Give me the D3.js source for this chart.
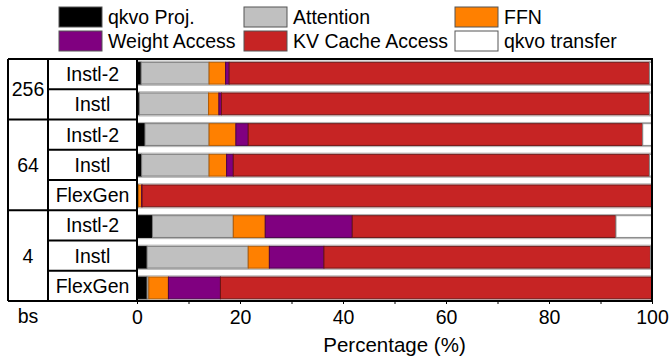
<!DOCTYPE html>
<html>
<head>
<meta charset="utf-8">
<script src="https://cdn.jsdelivr.net/npm/d3@7/dist/d3.min.js"></script>
<style>
  html, body { margin: 0; padding: 0; background: #fff; }
  svg { display: block; font-family: "Liberation Sans", Arial, sans-serif; }
</style>
</head>
<body>
<svg id="chart" width="670" height="360"></svg>
<script>
// ---- data ----
const rowLabels = ["Instl-2", "Instl", "Instl-2", "Instl", "FlexGen", "Instl-2", "Instl", "FlexGen"];
const rowBs     = ["256", "256", "64", "64", "64", "4", "4", "4"];
const groups    = ["256", "64", "4"];
const seriesNames = ["qkvo Proj.", "Attention", "FFN", "Weight Access", "KV Cache Access", "qkvo transfer"];
const qkvoProj     = [0.8, 0.45, 1.55, 0.9, 0.2, 3.0, 1.95, 1.95];
const attention    = [13.2, 13.45, 12.45, 13.1, 0.1, 15.7, 19.65, 0.35];
const ffn          = [3.2, 2.0, 5.2, 3.4, 0.6, 6.2, 4.1, 3.8];
const weightAccess = [0.7, 0.5, 2.4, 1.3, 0.1, 16.9, 10.6, 10.1];
const kvCache      = [81.6, 83.1, 76.6, 80.8, 99.0, 51.2, 63.4, 83.8];
const qkvoTransfer = [0.5, 0.5, 1.8, 0.5, 0, 7.0, 0.3, 0];
const xTicks = [0, 20, 40, 60, 80, 100];
const xMinorTicks = [10, 30, 50, 70, 90];

const colors  = ["#000000", "#c0c0c0", "#ff8000", "#800080", "#c62424", "#ffffff"];
const strokes = ["#000000", "#7a7a7a", "#b35a00", "#4a004a", "#6e1414", "#888888"];

const seriesValues = [qkvoProj, attention, ffn, weightAccess, kvCache, qkvoTransfer];
const table = rowLabels.map((name, i) => {
  const o = { idx: i, name: name, bs: rowBs[i] };
  seriesNames.forEach((s, k) => { o[s] = seriesValues[k][i]; });
  return o;
});

(function draw() {
  const svg = d3.select("#chart");
  const leftX = 8, bsDiv = 48, plotL = 137, plotR = 652, topY = 59, bottomY = 301;

  const x = d3.scaleLinear().domain([0, 100]).range([plotL, plotR]);
  const rowY = d3.scaleBand().domain(d3.range(8)).range([topY, bottomY]);
  const barY = d3.scaleBand().domain(d3.range(8)).range([62.3, 298.8]).paddingInner(0.29).paddingOuter(0);

  const stacked = d3.stack().keys(seriesNames)(table);

  // bar outer outline (light grey)
  svg.append("g").selectAll("rect").data(table).join("rect")
    .attr("x", x(0))
    .attr("y", d => barY(d.idx) - 1.2)
    .attr("width", x(100) - x(0))
    .attr("height", barY.bandwidth() + 2.4)
    .attr("fill", "none")
    .attr("stroke", "#b0b0b0")
    .attr("stroke-width", 1);

  const gBars = svg.append("g");
  stacked.forEach((layer, k) => {
    gBars.append("g").selectAll("rect").data(layer.filter(d => d[1] - d[0] > 0)).join("rect")
      .attr("x", d => x(d[0]))
      .attr("y", d => barY(d.data.idx))
      .attr("width", d => x(d[1]) - x(d[0]))
      .attr("height", barY.bandwidth())
      .attr("fill", colors[k])
      .attr("stroke", strokes[k])
      .attr("stroke-width", 1);
  });

  // ---- table frame ----
  const frame = svg.append("g").attr("stroke", "#000").attr("stroke-width", 2).attr("fill", "none");
  frame.append("line").attr("x1", leftX).attr("x2", plotR + 1).attr("y1", topY).attr("y2", topY);
  frame.append("line").attr("x1", leftX).attr("x2", plotR + 1).attr("y1", bottomY).attr("y2", bottomY);
  frame.append("line").attr("x1", leftX).attr("x2", leftX).attr("y1", topY).attr("y2", bottomY);
  frame.append("line").attr("x1", bsDiv).attr("x2", bsDiv).attr("y1", topY).attr("y2", bottomY);
  frame.append("line").attr("x1", plotL).attr("x2", plotL).attr("y1", topY).attr("y2", bottomY);
  frame.append("line").attr("x1", plotR).attr("x2", plotR).attr("y1", topY).attr("y2", bottomY);

  for (let i = 1; i < 8; i++) {
    const groupBoundary = rowBs[i] !== rowBs[i - 1];
    frame.append("line")
      .attr("x1", groupBoundary ? leftX : bsDiv).attr("x2", plotL)
      .attr("y1", rowY(i)).attr("y2", rowY(i));
  }

  svg.append("g").selectAll("text").data(table).join("text")
    .attr("x", (bsDiv + plotL) / 2)
    .attr("y", d => rowY(d.idx) + rowY.bandwidth() / 2 + 7)
    .attr("text-anchor", "middle")
    .attr("font-size", 19.5)
    .attr("fill", "#000")
    .text(d => d.name);

  svg.append("g").selectAll("text").data(groups).join("text")
    .attr("x", (leftX + bsDiv) / 2)
    .attr("y", g => {
      const idxs = d3.range(8).filter(i => rowBs[i] === g);
      const y0 = rowY(idxs[0]);
      const y1 = rowY(idxs[idxs.length - 1]) + rowY.bandwidth();
      return (y0 + y1) / 2 + 7;
    })
    .attr("text-anchor", "middle")
    .attr("font-size", 19.5)
    .text(g => g);

  // ---- x axis ----
  const axis = svg.append("g").attr("transform", `translate(0,${bottomY})`)
    .call(d3.axisBottom(x).tickValues(xTicks).tickSize(3).tickPadding(6).tickFormat(d3.format("d")));
  axis.select(".domain").remove();
  axis.selectAll(".tick line").attr("stroke", "#000").attr("stroke-width", 1);
  axis.selectAll(".tick text").attr("font-size", 19.5).attr("font-family", "Liberation Sans, Arial, sans-serif").attr("fill", "#000");

  const minor = svg.append("g").attr("transform", `translate(0,${bottomY})`)
    .call(d3.axisBottom(x).tickValues(xMinorTicks).tickSize(3).tickFormat(""));
  minor.select(".domain").remove();
  minor.selectAll(".tick line").attr("stroke", "#000");

  svg.append("text").attr("x", (leftX + bsDiv) / 2).attr("y", 323)
    .attr("text-anchor", "middle").attr("font-size", 19.5).text("bs");

  svg.append("text").attr("x", (plotL + plotR) / 2).attr("y", 352)
    .attr("text-anchor", "middle").attr("font-size", 20.5).text("Percentage (%)");

  // ---- legend ----
  const legendCols = [59, 244, 455];
  const legendRows = [7, 31];
  const legend = svg.append("g");
  seriesNames.forEach((s, k) => {
    const col = k % 3, row = Math.floor(k / 3);
    const g = legend.append("g").attr("transform", `translate(${legendCols[col]},${legendRows[row]})`);
    g.append("rect").attr("x", 0).attr("y", 0).attr("width", 43).attr("height", 20)
      .attr("fill", colors[k]).attr("stroke", "#555").attr("stroke-width", 1);
    g.append("text").attr("x", 49).attr("y", 16.5).attr("font-size", 19.5).text(s);
  });
})();
</script>
</body>
</html>
